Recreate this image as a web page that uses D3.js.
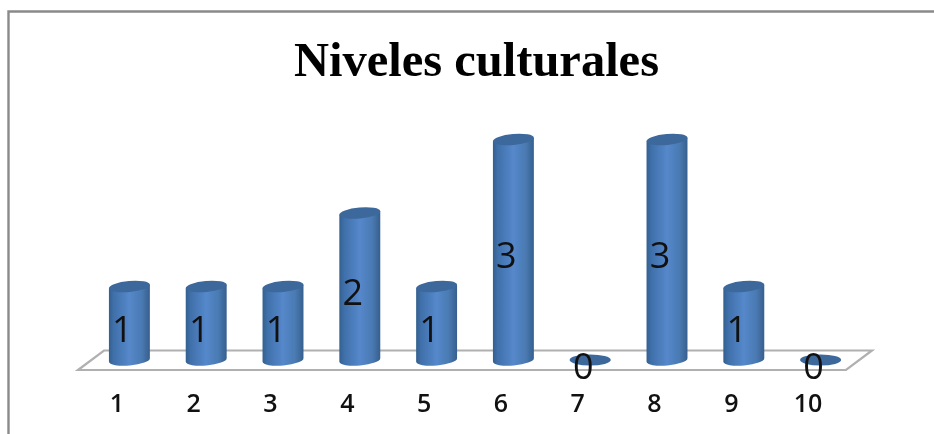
<!DOCTYPE html>
<html><head><meta charset="utf-8"><script src="https://cdn.jsdelivr.net/npm/d3@7"></script>
<style>html,body{margin:0;padding:0;background:#fff}svg{display:block}</style></head>
<body><svg id="c" width="934" height="434"></svg>
<script>
const categories = ["1","2","3","4","5","6","7","8","9","10"];
const values = [1,1,1,2,1,3,0,3,1,0];
const titleText = "Niveles culturales";

const svg = d3.select("#c");
const x = d3.scaleBand().domain(categories).range([91,859]).paddingInner(0.465).paddingOuter(0.2325);
const y = d3.scaleLinear().domain([0,3]).range([360,139.5]);

const defs = svg.append("defs");
const g = defs.append("linearGradient").attr("id","cyl");
[[0,"#33608f"],[0.12,"#4070aa"],[0.5,"#5588cb"],[0.8,"#4a7ab2"],[1,"#365f8e"]]
  .forEach(([o,c])=>g.append("stop").attr("offset",o).attr("stop-color",c));
defs.append("filter").attr("id","soft").append("feGaussianBlur").attr("stdDeviation",0.5);

// frame
svg.append("path").attr("d","M8.5,434V11.5H934").attr("fill","none").attr("stroke","#8a8a8a").attr("stroke-width",2.4);

// floor
svg.append("path").attr("d",d3.line()([[78,370],[104,350.5],[872,350.5],[846,370]])+"Z")
  .attr("fill","#fff").attr("stroke","#b0b0b0").attr("stroke-width",2.2).attr("filter","url(#soft)");

const rx = x.bandwidth()/2, ry = 5.5, tilt = -5;
const rad = tilt*Math.PI/180;
const dx = rx*Math.cos(rad), dy = rx*Math.sin(rad);

const marks = svg.append("g").attr("filter","url(#soft)");
const rows = categories.map((c,i)=>({c,v:values[i]}));
const bars = marks.selectAll("g").data(rows).join("g");
bars.filter(d=>d.v>0).append("path")
  .attr("fill","url(#cyl)")
  .attr("d",d=>{
    const cx = x(d.c)+rx, t = y(d.v), b = y(0);
    return `M${cx-dx},${t-dy}L${cx+dx},${t+dy}L${cx+dx},${b+dy}`+
           `A${rx},${ry} ${tilt} 0 1 ${cx-dx},${b-dy}Z`;
  });
bars.append("ellipse")
  .attr("cx",0).attr("cy",0).attr("rx",rx).attr("ry",ry)
  .attr("fill","#3c689c")
  .attr("transform",d=>`translate(${x(d.c)+rx},${y(d.v)}) rotate(${d.v>0?tilt:0})`);

// data labels
svg.append("g").selectAll("text").data(rows).join("text")
  .attr("x",d=>x(d.c)+rx-7).attr("y",d=>(y(d.v)+y(0))/2+18.5)
  .attr("text-anchor","middle").attr("font-family","'Open Sans'").attr("font-size",36).attr("fill","#111")
  .text(d=>d.v);

// category axis labels
const axis = d3.axisBottom(x).tickSize(0).tickPadding(0);
const ag = svg.append("g").attr("transform","translate(-12.5,394)").call(axis);
ag.select(".domain").remove();
ag.selectAll("text").attr("font-family","'Open Sans'").attr("font-weight",600).attr("font-size",25).attr("fill","#111");

// title
svg.append("text").attr("x",476.5).attr("y",76).attr("text-anchor","middle")
  .attr("font-family","'Liberation Serif'").attr("font-weight",700).attr("font-size",48.5).attr("fill","#000").text(titleText);
</script></body></html>
